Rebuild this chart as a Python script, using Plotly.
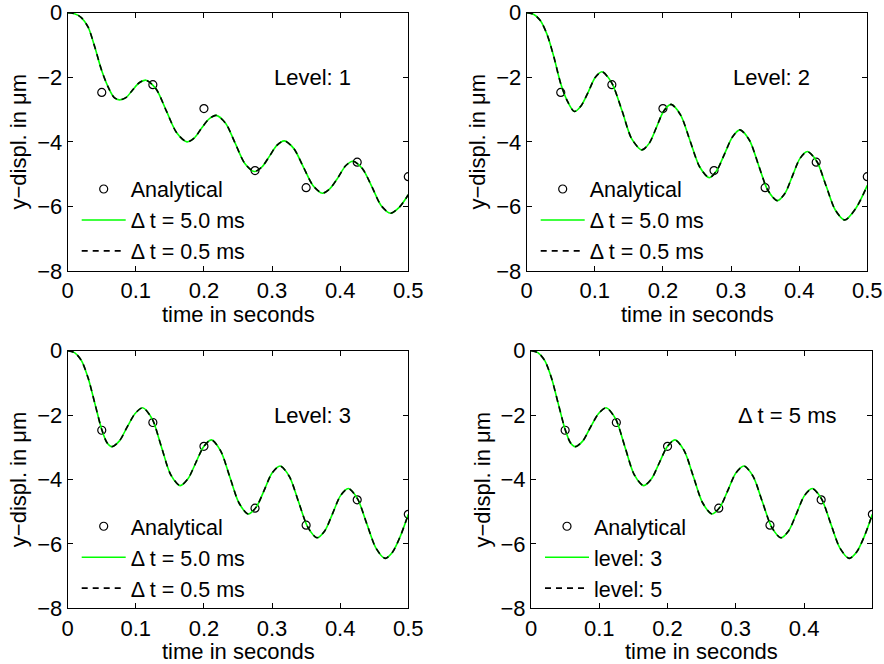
import plotly.graph_objects as go

# ---------------- data ----------------
# Analytical solution (same in every panel)
t_analytical = [0.05, 0.125, 0.2, 0.275, 0.35, 0.425, 0.5]
y_analytical = [-2.47, -2.23, -2.97, -4.89, -5.42, -4.63, -5.08]

# Panel 1: Level 1
t_level1 = [0, 0.01, 0.02, 0.03, 0.04, 0.05, 0.06, 0.068, 0.076, 0.086, 0.095, 0.105, 0.115,
            0.13, 0.145, 0.16, 0.175, 0.186, 0.196, 0.207, 0.218, 0.232, 0.246, 0.26, 0.274,
            0.285, 0.296, 0.307, 0.318, 0.332, 0.346, 0.36, 0.374, 0.385, 0.397, 0.408, 0.419,
            0.433, 0.447, 0.46, 0.474, 0.487, 0.5]
y_level1 = [0, -0.03, -0.15, -0.45, -1.08, -1.80, -2.33, -2.62, -2.70, -2.62, -2.40, -2.17, -2.09,
            -2.37, -3.05, -3.72, -4.00, -3.88, -3.59, -3.30, -3.18, -3.43, -4.05, -4.67, -4.92,
            -4.78, -4.45, -4.11, -3.97, -4.21, -4.78, -5.35, -5.59, -5.45, -5.10, -4.74, -4.60,
            -4.84, -5.41, -5.97, -6.21, -6.02, -5.64]

# Panel 2: Level 2
t_level2 = [0, 0.01, 0.02, 0.03, 0.04, 0.05, 0.06, 0.07, 0.080, 0.0905, 0.1005, 0.1106,
            0.125, 0.140, 0.154, 0.169, 0.180, 0.1905, 0.201, 0.212, 0.226, 0.240, 0.254, 0.268,
            0.279, 0.2905, 0.302, 0.313, 0.327, 0.3405, 0.354, 0.368, 0.379, 0.390, 0.401, 0.412,
            0.426, 0.4395, 0.453, 0.467, 0.4835, 0.5]
y_level2 = [0, -0.05, -0.24, -0.68, -1.38, -2.20, -2.75, -3.06, -2.88, -2.45, -2.01, -1.83,
            -2.18, -3.04, -3.90, -4.25, -4.04, -3.55, -3.05, -2.84, -3.17, -3.98, -4.78, -5.11,
            -4.89, -4.37, -3.85, -3.63, -3.95, -4.73, -5.50, -5.82, -5.60, -5.06, -4.52, -4.30,
            -4.61, -5.36, -6.11, -6.42, -6.05, -5.35]

# Panel 3 / 4: Level 3 (dt = 5 ms); Level 5 coincides
t_level3 = [0, 0.01, 0.02, 0.03, 0.04, 0.05, 0.0575, 0.0646, 0.076, 0.087, 0.099, 0.110,
            0.124, 0.1375, 0.151, 0.165, 0.1765, 0.188, 0.1995, 0.211, 0.2245, 0.238, 0.2515, 0.265,
            0.277, 0.2885, 0.300, 0.312, 0.3255, 0.339, 0.3525, 0.366, 0.3775, 0.389, 0.4005, 0.412,
            0.4255, 0.439, 0.4525, 0.466, 0.477, 0.4885, 0.5]
y_level3 = [0, -0.06, -0.30, -0.85, -1.65, -2.45, -2.85, -2.98, -2.80, -2.38, -1.95, -1.77,
            -2.12, -2.98, -3.84, -4.19, -3.98, -3.48, -2.98, -2.77, -3.11, -3.92, -4.73, -5.07,
            -4.85, -4.33, -3.80, -3.58, -3.91, -4.70, -5.48, -5.81, -5.59, -5.05, -4.50, -4.28,
            -4.60, -5.37, -6.13, -6.45, -6.25, -5.75, -5.08]
t_level5 = t_level3
y_level5 = y_level3

panel_titles = ["Level: 1", "Level: 2", "Level: 3", "\u0394 t = 5 ms"]
x_ticks_full = [0, 0.1, 0.2, 0.3, 0.4, 0.5]
x_ticks_short = [0, 0.1, 0.2, 0.3, 0.4]
y_ticks = [-8, -6, -4, -2, 0]

# ---------------- styling ----------------
FONT = "Liberation Sans, Arial, Helvetica, sans-serif"
FS = 22
LFS = 21.5
W, H = 884, 664

panels = [
    dict(sfx="", t=t_level1, y=y_level1, y2=y_level1, names=["\u0394 t = 5.0 ms", "\u0394 t = 0.5 ms"],
         xpx=(67.7, 408.3), ypx=(12.7, 271.0), ticks=x_ticks_full, rng=[0, 0.5]),
    dict(sfx="2", t=t_level2, y=y_level2, y2=y_level2, names=["\u0394 t = 5.0 ms", "\u0394 t = 0.5 ms"],
         xpx=(526.7, 867.3), ypx=(12.7, 271.0), ticks=x_ticks_full, rng=[0, 0.5]),
    dict(sfx="3", t=t_level3, y=y_level3, y2=y_level3, names=["\u0394 t = 5.0 ms", "\u0394 t = 0.5 ms"],
         xpx=(67.7, 408.3), ypx=(350.7, 608.3), ticks=x_ticks_full, rng=[0, 0.5]),
    dict(sfx="4", t=t_level3, y=y_level3, y2=y_level5, names=["level: 3", "level: 5"],
         xpx=(531.0, 872.3), ypx=(350.7, 608.3), ticks=x_ticks_short, rng=[0, 0.4999]),
]

fig = go.Figure()
layout = dict(
    width=W, height=H,
    margin=dict(l=0, r=0, t=0, b=0, autoexpand=False),
    paper_bgcolor="white", plot_bgcolor="white",
    font=dict(family=FONT, size=FS, color="black"),
    annotations=[],
)

for i, p in enumerate(panels):
    s = p["sfx"]
    xa, ya = "x" + s, "y" + s
    leg = "legend" + s
    fig.add_trace(go.Scatter(
        x=t_analytical, y=y_analytical, mode="markers", name="Analytical",
        marker=dict(symbol="circle-open", size=8, color="black", line=dict(width=1.2, color="black")),
        xaxis=xa, yaxis=ya, legend=leg))
    fig.add_trace(go.Scatter(
        x=p["t"], y=p["y"], mode="lines", name=p["names"][0],
        line=dict(color="#00ff00", width=1.6, shape="spline", smoothing=0.8),
        xaxis=xa, yaxis=ya, legend=leg))
    fig.add_trace(go.Scatter(
        x=p["t"], y=p["y2"], mode="lines", name=p["names"][1],
        line=dict(color="black", width=1.6, dash="6px,5px", shape="spline", smoothing=0.8),
        xaxis=xa, yaxis=ya, legend=leg))

    x0, x1 = p["xpx"]
    y0, y1 = p["ypx"]
    axcommon = dict(showline=True, linecolor="black", linewidth=1, mirror="ticks",
                    ticks="inside", ticklen=5, tickcolor="black", showgrid=False,
                    zeroline=False, automargin=False,
                    tickfont=dict(family=FONT, size=FS, color="black"))
    layout["xaxis" + s] = dict(axcommon, domain=[x0 / W, x1 / W], anchor=ya,
                               range=p["rng"], tickvals=p["ticks"],
                               ticktext=[("%g" % v) for v in p["ticks"]])
    layout["yaxis" + s] = dict(axcommon, domain=[1 - y1 / H, 1 - y0 / H], anchor=xa,
                               range=[-8, 0], tickvals=y_ticks,
                               ticktext=[("\u2212%d" % -v if v < 0 else "0") for v in y_ticks])
    layout["legend" + s] = dict(x=(x0 + 9) / W, y=1 - (y1 - 102.5) / H, xanchor="left", yanchor="top",
                                bgcolor="rgba(0,0,0,0)", borderwidth=0, itemwidth=44,
                                font=dict(family=FONT, size=LFS, color="black"),
                                tracegroupgap=0)
    # panel label
    layout["annotations"].append(dict(x=0.3, y=-2, xref=xa, yref=ya, text=panel_titles[i],
                                      showarrow=False, xanchor="left", yanchor="middle",
                                      font=dict(family=FONT, size=FS, color="black")))
    # axis titles
    layout["annotations"].append(dict(x=(x0 + x1) / 2 / W, y=1 - (y1 + 43) / H, xref="paper", yref="paper",
                                      text="time in seconds", showarrow=False,
                                      xanchor="center", yanchor="middle",
                                      font=dict(family=FONT, size=FS, color="black")))
    layout["annotations"].append(dict(x=(x0 - 49) / W, y=1 - (y0 + y1) / 2 / H, xref="paper", yref="paper",
                                      text="y\u2212displ. in \u03bcm", showarrow=False, textangle=-90,
                                      xanchor="center", yanchor="middle",
                                      font=dict(family=FONT, size=FS, color="black")))

fig.update_layout(**layout)
fig.write_html("out.html", config={"displayModeBar": False},
               post_script="document.body.style.margin='0px';")
